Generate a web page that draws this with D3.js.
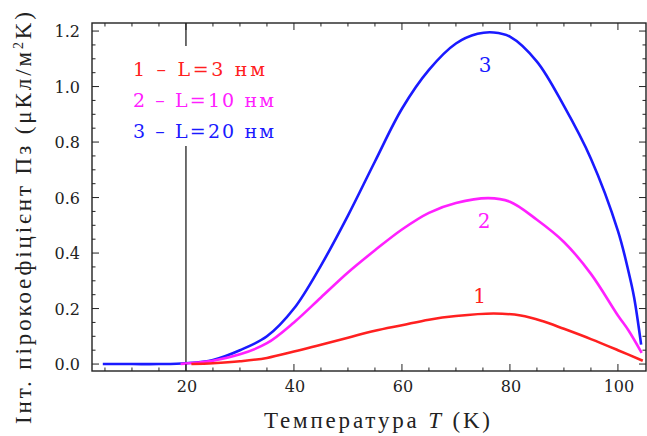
<!DOCTYPE html>
<html>
<head>
<meta charset="utf-8">
<script src="https://cdn.jsdelivr.net/npm/d3@7"></script>
<style>
  body { margin: 0; background: #fff; }
  svg { display: block; }
</style>
</head>
<body>
<div id="chart"></div>
<script>
// temperature samples (K) and coefficient values (uC/m^2K)
const tempL20 = [4.6, 10, 15, 20, 25, 30, 35, 40, 45, 50, 55, 60, 65, 70, 74, 77, 80, 85, 90, 95, 100, 102, 103, 104.3];
const valL20 = [0, 0, 0, 0.003, 0.015, 0.05, 0.1, 0.2, 0.355, 0.535, 0.73, 0.92, 1.06, 1.155, 1.19, 1.195, 1.18, 1.09, 0.93, 0.74, 0.48, 0.33, 0.24, 0.07];

const tempL10 = [19, 20, 25, 30, 35, 40, 45, 50, 55, 60, 65, 70, 76, 80, 85, 90, 95, 100, 102, 104.4];
const valL10 = [0, 0.002, 0.012, 0.035, 0.075, 0.15, 0.24, 0.33, 0.41, 0.485, 0.545, 0.58, 0.598, 0.585, 0.52, 0.44, 0.325, 0.175, 0.12, 0.04];

const tempL3 = [21, 25, 30, 35, 40, 45, 50, 55, 60, 65, 70, 77, 82, 86, 90, 95, 100, 104.6];
const valL3 = [0, 0.003, 0.01, 0.022, 0.045, 0.07, 0.095, 0.12, 0.14, 0.16, 0.173, 0.182, 0.175, 0.155, 0.127, 0.09, 0.05, 0.012];

const legendLabels = ["1 \u2013 L=3 нм", "2 \u2013 L=10 нм", "3 \u2013 L=20 нм"];
const curveLabels = ["1", "2", "3"];
const curveLabelAt = [[74.4, 0.22], [75.2, 0.49], [75.4, 1.052]];
const colors = ["#ff2020", "#ff20ff", "#1a1aff"];

const xTicks = [20, 40, 60, 80, 100];
const yTicks = [0, 0.2, 0.4, 0.6, 0.8, 1.0, 1.2];
const markerTemp = 20;

const width = 647;
const height = 436;
const plotLeft = 92, plotRight = 646, plotTop = 23, plotBottom = 371;
const serif = "Liberation Serif";
const wideSerif = "DejaVu Serif";

const svg = d3
  .select("#chart")
  .append("svg")
  .attr("width", width)
  .attr("height", height);

const x = d3.scaleLinear().domain([2.6, 105.2]).range([plotLeft, plotRight]);
const y = d3.scaleLinear().domain([-0.025, 1.229]).range([plotBottom, plotTop]);

// vertical marker at T = 20 K
svg
  .append("line")
  .attr("x1", x(markerTemp))
  .attr("x2", x(markerTemp))
  .attr("y1", plotTop)
  .attr("y2", plotBottom)
  .attr("stroke", "#222")
  .attr("stroke-width", 1.3);

// legend box hides the marker line behind it
svg
  .append("rect")
  .attr("x", 122)
  .attr("y", 46)
  .attr("width", 160)
  .attr("height", 100)
  .attr("fill", "#fff");

const line = d3
  .line()
  .x((d) => x(d[0]))
  .y((d) => y(d[1]))
  .curve(d3.curveCatmullRom.alpha(0.5));

const series = [
  d3.zip(tempL3, valL3),
  d3.zip(tempL10, valL10),
  d3.zip(tempL20, valL20),
];

// blue first, red on top
[2, 1, 0].forEach((i) => {
  svg
    .append("path")
    .datum(series[i])
    .attr("fill", "none")
    .attr("stroke", colors[i])
    .attr("stroke-width", 2.6)
    .attr("stroke-linejoin", "round")
    .attr("d", line);
});

// frame
svg
  .append("rect")
  .attr("x", plotLeft)
  .attr("y", plotTop)
  .attr("width", plotRight - plotLeft)
  .attr("height", plotBottom - plotTop)
  .attr("fill", "none")
  .attr("stroke", "#222")
  .attr("stroke-width", 1.4);

// inward ticks, majors and minors, on all four sides
const xMinor = d3.range(5, 105, 5);
const yMinor = d3.range(0, 1.2001, 0.05);

const tickG = svg.append("g").attr("stroke", "#222").attr("stroke-width", 1);

xMinor.forEach((t) => {
  const len = xTicks.includes(t) ? 7 : 3.5;
  tickG.append("line").attr("x1", x(t)).attr("x2", x(t)).attr("y1", plotBottom).attr("y2", plotBottom - len);
  tickG.append("line").attr("x1", x(t)).attr("x2", x(t)).attr("y1", plotTop).attr("y2", plotTop + len);
});

yMinor.forEach((v, i) => {
  const len = i % 4 === 0 ? 7 : 3.5;
  tickG.append("line").attr("x1", plotLeft).attr("x2", plotLeft + len).attr("y1", y(v)).attr("y2", y(v));
  tickG.append("line").attr("x1", plotRight).attr("x2", plotRight - len).attr("y1", y(v)).attr("y2", y(v));
});

svg
  .selectAll("text.xtick")
  .data(xTicks)
  .join("text")
  .attr("class", "xtick")
  .attr("x", (d) => x(d) + 1)
  .attr("y", 392)
  .attr("text-anchor", "middle")
  .style("font-family", wideSerif)
  .style("font-size", "16px")
  .attr("fill", "#222")
  .text((d) => d);

svg
  .selectAll("text.ytick")
  .data(yTicks)
  .join("text")
  .attr("class", "ytick")
  .attr("x", 80)
  .attr("y", (d) => y(d) + 6)
  .attr("text-anchor", "end")
  .style("font-family", wideSerif)
  .style("font-size", "16px")
  .attr("fill", "#222")
  .text((d) => d.toFixed(1));

// axis titles
const xTitle = svg
  .append("text")
  .attr("x", 264)
  .attr("y", 428)
  .style("font-family", serif)
  .style("font-size", "23px")
  .attr("fill", "#222")
  .attr("textLength", 226)
  .attr("lengthAdjust", "spacing");
xTitle.append("tspan").text("Температура ");
xTitle.append("tspan").style("font-style", "italic").text("T");
xTitle.append("tspan").text(" (K)");

const yTitle = svg
  .append("text")
  .attr("transform", "translate(31,424) rotate(-90)")
  .style("font-family", serif)
  .style("font-size", "23px")
  .attr("fill", "#222")
  .attr("textLength", 412)
  .attr("lengthAdjust", "spacing");
yTitle.append("tspan").text("Інт. пірокоефіцієнт  Пз (μКл/м");
yTitle.append("tspan").style("font-size", "14px").attr("dy", -8).text("2");
yTitle.append("tspan").attr("dy", 8).text("K)");

// legend
svg
  .selectAll("text.legend")
  .data(legendLabels)
  .join("text")
  .attr("class", "legend")
  .attr("x", 133)
  .attr("y", (d, i) => 76 + i * 31)
  .style("font-family", wideSerif)
  .style("font-size", "19px")
  .attr("fill", (d, i) => colors[i])
  .attr("textLength", (d, i) => (i === 0 ? 132 : 141))
  .attr("lengthAdjust", "spacing")
  .text((d) => d);

// curve numbers
svg
  .selectAll("text.curvelabel")
  .data(curveLabels)
  .join("text")
  .attr("class", "curvelabel")
  .attr("x", (d, i) => x(curveLabelAt[i][0]))
  .attr("y", (d, i) => y(curveLabelAt[i][1]))
  .attr("text-anchor", "middle")
  .style("font-family", wideSerif)
  .style("font-size", "20px")
  .attr("fill", (d, i) => colors[i])
  .text((d) => d);
</script>
</body>
</html>
